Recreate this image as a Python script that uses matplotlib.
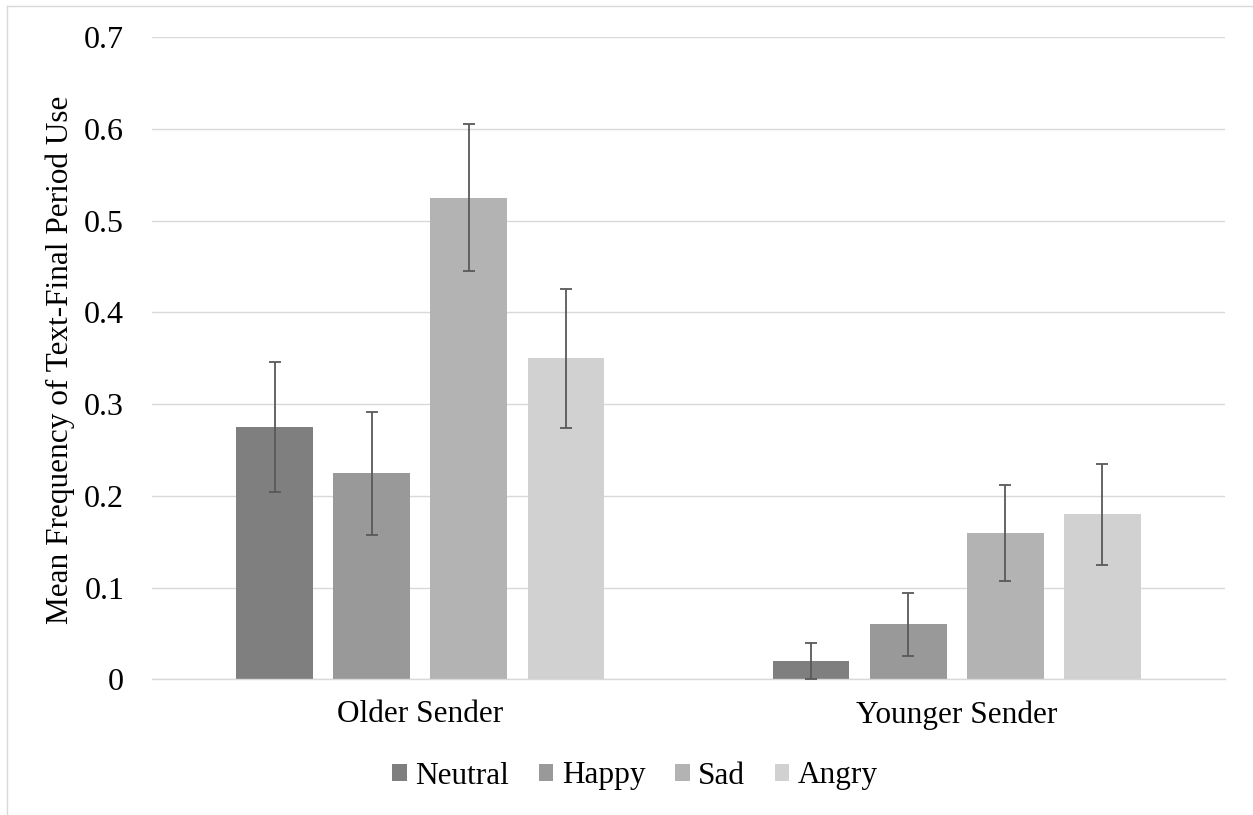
import numpy as np
import matplotlib
matplotlib.use("Agg")
import matplotlib.pyplot as plt
from matplotlib.lines import Line2D

plt.rcParams['font.family'] = ['Liberation Serif', 'DejaVu Serif']

senders = ["Older Sender", "Younger Sender"]
emotions = ["Neutral", "Happy", "Sad", "Angry"]
colors = ["#7f7f7f", "#999999", "#b3b3b3", "#d1d1d1"]

# mean per emotion, one value per sender group
means = {
    "Neutral": [0.275, 0.02],
    "Happy": [0.225, 0.06],
    "Sad": [0.525, 0.16],
    "Angry": [0.35, 0.18],
}
# error bar half-widths
errors = {
    "Neutral": [0.071, 0.02],
    "Happy": [0.067, 0.034],
    "Sad": [0.08, 0.0525],
    "Angry": [0.076, 0.055],
}
yticks = [0, 0.1, 0.2, 0.3, 0.4, 0.5, 0.6, 0.7]
ytick_labels = ["0", "0.1", "0.2", "0.3", "0.4", "0.5", "0.6", "0.7"]

fig = plt.figure(figsize=(12.53, 8.15), dpi=100)
ax = fig.add_axes([0.1213, 0.1663, 0.8563, 0.788])

x = np.arange(len(senders))
width = 0.143
pitch = 0.181
for i, emo in enumerate(emotions):
    offs = (i - 1.5) * pitch
    ax.bar(x + offs, means[emo], width, color=colors[i], label=emo, zorder=2)
    ax.errorbar(x + offs, means[emo], yerr=errors[emo], fmt='none',
                ecolor='#595959', elinewidth=1.3, capsize=4.3, capthick=1.3,
                zorder=3)

ax.set_xlim(-0.5, 1.5)
ax.set_ylim(0, 0.7)
ax.set_yticks(yticks)
ax.set_yticklabels(ytick_labels)
ax.set_xticks(x)
ax.set_xticklabels(senders)
ax.yaxis.grid(True, color='#d9d9d9', linewidth=1.0, zorder=0)
ax.set_axisbelow(True)
for s in ['top', 'right', 'left']:
    ax.spines[s].set_visible(False)
ax.spines['bottom'].set_color('#d9d9d9')
ax.spines['bottom'].set_linewidth(1.0)
ax.tick_params(axis='y', length=0, pad=20, labelsize=23)
ax.tick_params(axis='x', length=0, pad=15, labelsize=22.5)

fig.text(60 / 1253, 1 - 359.5 / 815, "Mean Frequency of Text-Final Period Use",
         rotation=90, ha='center', va='center', fontsize=22.5)

ax.legend(loc='center', bbox_to_anchor=(635 / 1253, 39 / 815),
          bbox_transform=fig.transFigure, ncol=4, frameon=False,
          fontsize=22.5, handlelength=0.47, handleheight=0.47,
          handletextpad=0.28, columnspacing=0.94)

# chart area outline (left and top edges)
fig.add_artist(Line2D([7 / 1253, 7 / 1253], [0, 1 - 6 / 815],
                      transform=fig.transFigure, color='#d9d9d9', linewidth=1.0))
fig.add_artist(Line2D([7 / 1253, 1], [1 - 6 / 815, 1 - 6 / 815],
                      transform=fig.transFigure, color='#d9d9d9', linewidth=1.0))

fig.savefig("out.png", dpi=100)
